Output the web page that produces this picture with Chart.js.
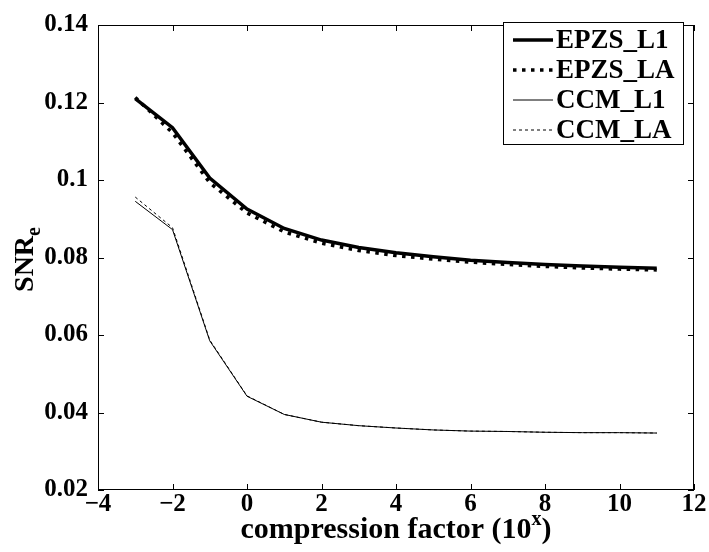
<!DOCTYPE html>
<html><head><meta charset="utf-8">
<script src="https://cdn.jsdelivr.net/npm/chart.js@4.4.1/dist/chart.umd.min.js"></script>
<style>html,body{margin:0;padding:0;background:#fff}#wrap{width:709px;height:552px}</style>
</head><body><div id="wrap"><canvas id="c" width="709" height="552"></canvas></div>
<script>
const xValues = [-3,-2,-1,0,1,2,3,4,5,6,7,8,9,10,11];
const epzsL1 = [0.1210,0.1135,0.1005,0.0925,0.0875,0.0845,0.0826,0.0812,0.0802,0.0793,0.0787,0.0782,0.0778,0.0775,0.0772];
const epzsLA = [0.1213,0.1122,0.0993,0.0915,0.0866,0.0837,0.0818,0.0805,0.0796,0.0788,0.0782,0.0777,0.0773,0.0770,0.0768];
const ccmL1  = [0.0945,0.0872,0.0585,0.0442,0.0395,0.0375,0.0366,0.0360,0.0355,0.0352,0.0351,0.0349,0.0348,0.0348,0.0347];
const ccmLA  = [0.0956,0.0877,0.0587,0.0443,0.0395,0.0375,0.0366,0.0360,0.0355,0.0352,0.0351,0.0349,0.0348,0.0348,0.0347];
const seriesNames = ['EPZS_L1','EPZS_LA','CCM_L1','CCM_LA'];
const xTickValues = [-4,-2,0,2,4,6,8,10,12];
const xTickLabels = ['\u22124','\u22122','0','2','4','6','8','10','12'];
const yTickValues = [0.02,0.04,0.06,0.08,0.1,0.12,0.14];
const yTickLabels = ['0.02','0.04','0.06','0.08','0.1','0.12','0.14'];

const FONT = '"Liberation Serif", "Times New Roman", serif';
const pts = arr => xValues.map((x,i)=>({x, y: arr[i]}));
const styles = [
  {borderWidth:3.5, borderDash:[]},
  {borderWidth:3.5, borderDash:[3.5,5.5]},
  {borderWidth:1, borderDash:[]},
  {borderWidth:1, borderDash:[3,3]}
];
const datasets = [epzsL1, epzsLA, ccmL1, ccmLA].map((arr,i)=>({
  label: seriesNames[i], data: pts(arr), borderColor:'#000', backgroundColor:'#000',
  borderWidth: styles[i].borderWidth, borderDash: styles[i].borderDash,
  pointRadius:0, tension:0, fill:false
}));

const decor = {
  id:'decor',
  afterDraw(chart){
    const ctx = chart.ctx, a = chart.chartArea, xs = chart.scales.x, ys = chart.scales.y;
    ctx.save();
    ctx.strokeStyle='#000'; ctx.lineWidth=1; ctx.setLineDash([]);
    ctx.strokeRect(a.left+0.5, a.top+0.5, a.right-a.left-1, a.bottom-a.top-1);
    const tl = 6;
    ctx.beginPath();
    xTickValues.forEach(v=>{ const px = Math.round(xs.getPixelForValue(v))+0.5;
      ctx.moveTo(px,a.bottom); ctx.lineTo(px,a.bottom-tl); ctx.moveTo(px,a.top); ctx.lineTo(px,a.top+tl); });
    yTickValues.forEach(v=>{ const py = Math.round(ys.getPixelForValue(v))+0.5;
      ctx.moveTo(a.left,py); ctx.lineTo(a.left+tl,py); ctx.moveTo(a.right,py); ctx.lineTo(a.right-tl,py); });
    ctx.stroke();
    // axis titles
    ctx.fillStyle='#000';
    const TS = 30, SS = 20;
    ctx.font = 'bold '+TS+'px '+FONT;
    const t1 = 'compression factor (10', t2 = 'x', t3 = ')';
    const w1 = ctx.measureText(t1).width, w3 = ctx.measureText(t3).width;
    ctx.font = 'bold '+SS+'px '+FONT; const w2 = ctx.measureText(t2).width;
    const tot = w1+w2+w3; let sx = (a.left+a.right)/2 - tot/2; const by = 538;
    ctx.textBaseline='alphabetic'; ctx.textAlign='left';
    ctx.font='bold '+TS+'px '+FONT; ctx.fillText(t1, sx, by);
    ctx.font='bold '+SS+'px '+FONT; ctx.fillText(t2, sx+w1, by-13);
    ctx.font='bold '+TS+'px '+FONT; ctx.fillText(t3, sx+w1+w2, by);
    // y title
    ctx.save();
    ctx.translate(33, (a.top+a.bottom)/2 + 2);
    ctx.rotate(-Math.PI/2);
    const YS = 28;
    ctx.font='bold '+YS+'px '+FONT; const s1='SNR'; const sw1=ctx.measureText(s1).width;
    ctx.font='bold '+SS+'px '+FONT; const sw2=ctx.measureText('e').width;
    const st = -(sw1+sw2)/2;
    ctx.font='bold '+YS+'px '+FONT; ctx.fillText(s1, st, 0);
    ctx.font='bold '+SS+'px '+FONT; ctx.fillText('e', st+sw1, 7);
    ctx.restore();
    // legend
    const L = 503, T = 22, W = 180, H = 122;
    ctx.fillStyle='#fff'; ctx.fillRect(L,T,W,H);
    ctx.strokeStyle='#000'; ctx.lineWidth=1; ctx.strokeRect(L+0.5,T+0.5,W,H);
    chart.data.datasets.forEach((ds,i)=>{
      const cy = T + 18 + i*30;
      ctx.beginPath(); ctx.lineWidth = ds.borderWidth; ctx.setLineDash(ds.borderDash||[]);
      ctx.moveTo(L+10, cy); ctx.lineTo(L+50, cy); ctx.stroke();
      ctx.setLineDash([]);
      ctx.fillStyle='#000'; ctx.font='bold 27px '+FONT; ctx.textBaseline='middle';
      ctx.fillText(ds.label, L+53, cy+1);
    });
    ctx.restore();
  }
};

new Chart(document.getElementById('c'), {
  type:'line',
  data:{datasets},
  options:{
    responsive:false, animation:false, devicePixelRatio:1,
    layout:{padding:{left:0, right:15, top:16, bottom:0}},
    plugins:{legend:{display:false}, tooltip:{enabled:false}},
    scales:{
      x:{type:'linear', min:-4, max:12,
        afterBuildTicks(s){ s.ticks = xTickValues.map(v=>({value:v})); },
        afterFit(s){ s.height = 62; },
        grid:{display:false, drawTicks:false}, border:{display:false},
        ticks:{color:'#000', padding:0, maxRotation:0, font:{family:FONT, size:25, weight:'bold'},
          callback:(v)=>{ const i = xTickValues.indexOf(v); return i>=0 ? xTickLabels[i] : ''; }}
      },
      y:{type:'linear', min:0.02, max:0.14,
        afterBuildTicks(s){ s.ticks = yTickValues.map(v=>({value:v})); },
        afterFit(s){ s.width = 98; },
        grid:{display:false, drawTicks:false}, border:{display:false},
        ticks:{color:'#000', padding:10, font:{family:FONT, size:25, weight:'bold'},
          callback:(v)=>{ const i = yTickValues.findIndex(t=>Math.abs(t-v)<1e-9); return i>=0 ? yTickLabels[i] : ''; }}
      }
    }
  },
  plugins:[decor]
});
</script></body></html>
